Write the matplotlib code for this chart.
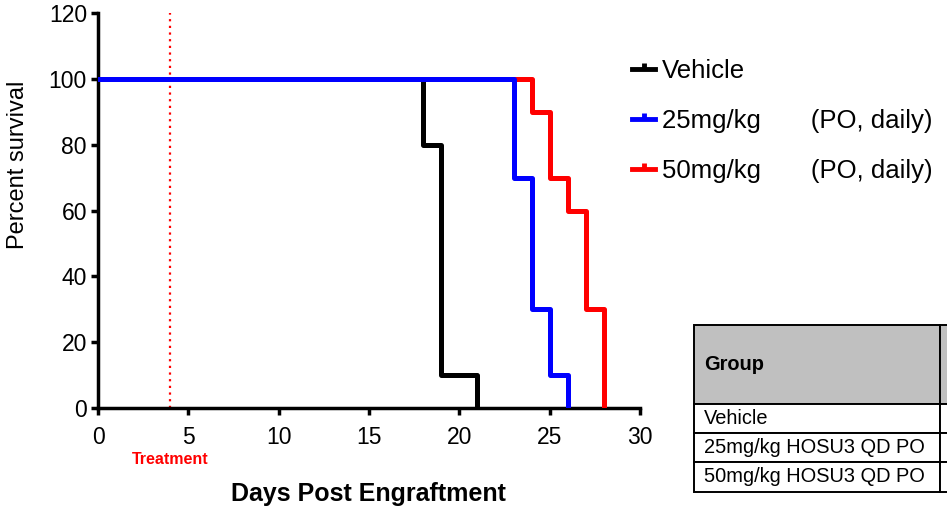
import matplotlib
matplotlib.use("Agg")
import matplotlib.pyplot as plt
import matplotlib.transforms as mtransforms
from matplotlib.lines import Line2D

plt.rcParams["font.family"] = ["Liberation Sans", "DejaVu Sans"]

# Kaplan-Meier steps (day, percent survival after that day)
VEH_DAYS = [0, 18, 19, 21]
VEH_SURV = [100, 80, 10, 0]
LOW_DAYS = [0, 23, 24, 25, 26]
LOW_SURV = [100, 70, 30, 10, 0]
HIGH_DAYS = [0, 24, 25, 26, 27, 28]
HIGH_SURV = [100, 90, 70, 60, 30, 0]
TREAT_DAY = 4

LEGEND_LABELS = ["Vehicle", "25mg/kg       (PO, daily)",
                 "50mg/kg       (PO, daily)"]
COLORS = ["#000000", "#0000ff", "#ff0000"]

TABLE_HEADER = ["Group", ""]
TABLE_ROWS = [["Vehicle", ""],
              ["25mg/kg HOSU3 QD PO", ""],
              ["50mg/kg HOSU3 QD PO", ""]]

W, H = 947, 513
fig = plt.figure(figsize=(W / 100, H / 100), dpi=100)
ax = fig.add_axes([98 / W, 1 - 408 / H, (640 - 98) / W, (408 - 13) / H])

ax.step(VEH_DAYS, VEH_SURV, where="post", color=COLORS[0], lw=3.6, zorder=3)
ax.step(HIGH_DAYS, HIGH_SURV, where="post", color=COLORS[2], lw=3.6, zorder=4)
ax.step(LOW_DAYS, LOW_SURV, where="post", color=COLORS[1], lw=3.6, zorder=5)
ax.axvline(TREAT_DAY, color="#ff0000", lw=1.6, ls=(0, (1, 2)), zorder=2)

ax.set_xlim(0, 30)
ax.set_ylim(0, 120)
ax.set_xticks(range(0, 31, 5))
ax.set_yticks(range(0, 121, 20))
for s in ("top", "right"):
    ax.spines[s].set_visible(False)
for s in ("left", "bottom"):
    ax.spines[s].set_linewidth(2.5)
ax.tick_params(direction="out", length=5, width=2.5, labelsize=16.5, pad=3)
ax.tick_params(axis="x", pad=8)

blend = mtransforms.blended_transform_factory(ax.transData, ax.transAxes)
ax.text(TREAT_DAY, -0.13, "Treatment", transform=blend, color="#ff0000",
        fontsize=11.5, fontweight="bold", ha="center", va="center")

fig.text(368 / W, 1 - 494 / H, "Days Post Engraftment", fontsize=18,
         fontweight="bold", ha="center", va="center")
fig.text(18 / W, 1 - 165 / H, "Percent survival", fontsize=17,
         rotation=90, ha="center", va="center")

handles = [Line2D([], [], color=c, lw=3.5, marker=2, ms=4, mew=3.5)
           for c in COLORS]
fig.legend(handles, LEGEND_LABELS, loc="upper left",
           bbox_to_anchor=(632 / W, 1 - 59 / H), frameon=False,
           fontsize=18.5, handlelength=0.9, handletextpad=0.28,
           labelspacing=1.02, borderpad=0, borderaxespad=0)

# table (cut off at right edge in the source)
tx0, ty0 = 694, 325
tw, th = 300, 492 - 325
tax = fig.add_axes([tx0 / W, 1 - (ty0 + th) / H, tw / W, th / H])
tax.axis("off")
tbl = tax.table(cellText=TABLE_ROWS, colLabels=TABLE_HEADER,
                colWidths=[246 / tw, 54 / tw], cellLoc="left",
                colLoc="left", bbox=[0, 0, 1, 1])
tbl.auto_set_font_size(False)
row_h = [79, 28, 29, 30]
for (r, c), cell in tbl.get_celld().items():
    cell.set_height(row_h[r] / th)
    cell.set_linewidth(1.4)
    cell.set_edgecolor("black")
    cell.PAD = 0.04
    txt = cell.get_text()
    txt.set_fontsize(14.4)
    if r == 0:
        cell.set_facecolor("#c0c0c0")
        txt.set_fontweight("bold")
    else:
        cell.set_facecolor("white")

fig.savefig("out.png", dpi=100)
